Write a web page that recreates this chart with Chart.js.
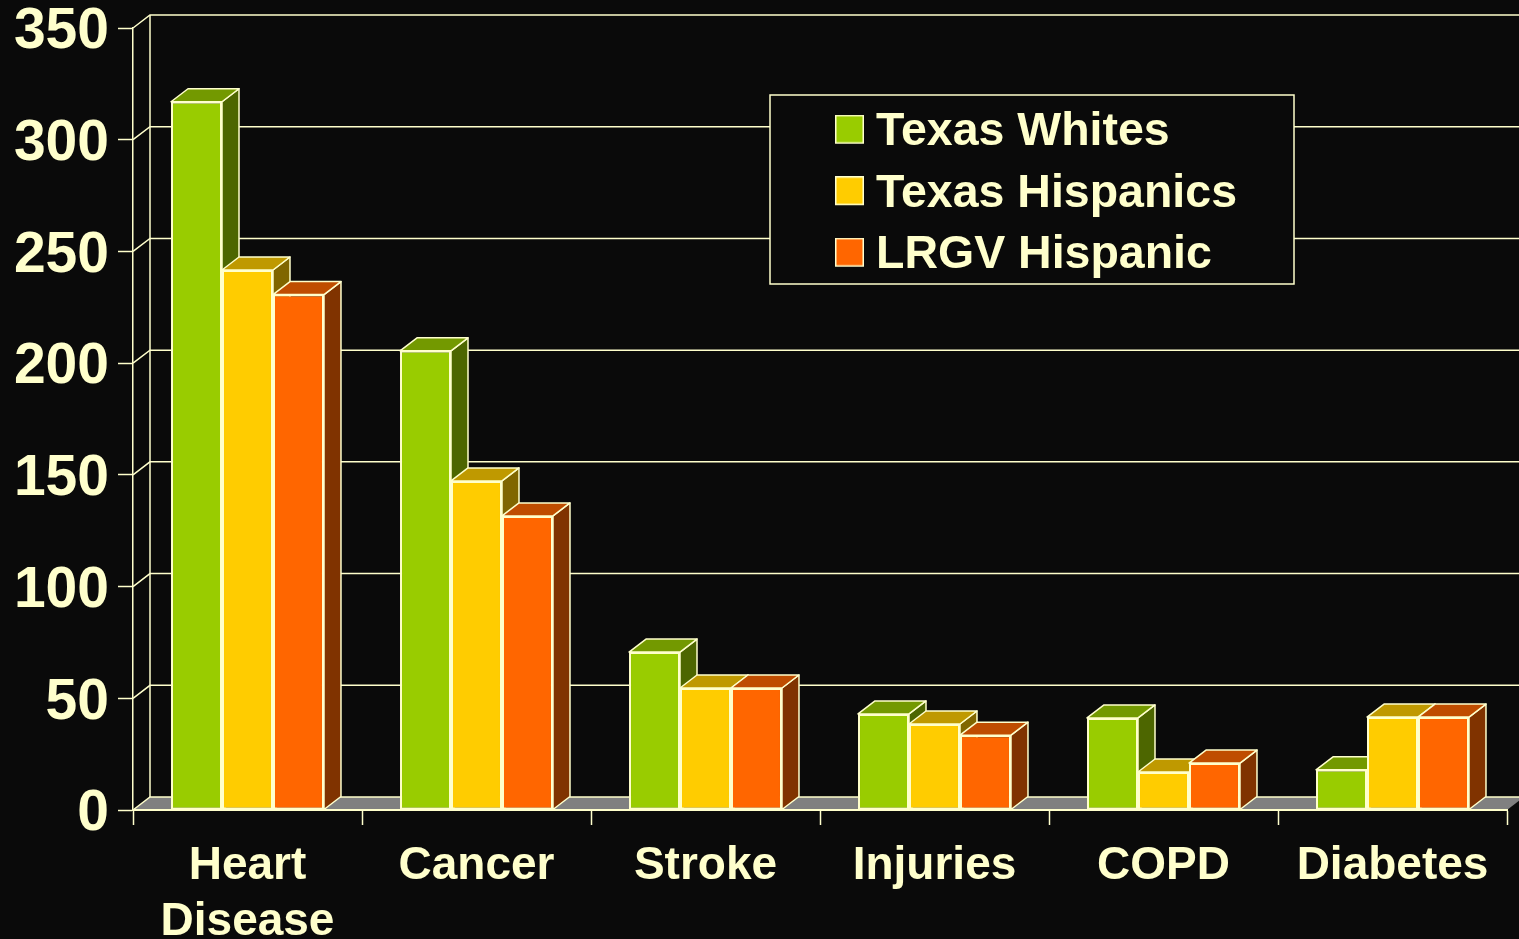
<!DOCTYPE html>
<html>
<head>
<meta charset="utf-8">
<style>
html,body{margin:0;padding:0;background:#0a0a0a;overflow:hidden}
canvas{display:block}
</style>
<script src="https://cdn.jsdelivr.net/npm/chart.js@4"></script>
</head>
<body>
<canvas id="c" width="1519" height="939"></canvas>
<script>
const categories = [['Heart','Disease'],'Cancer','Stroke','Injuries','COPD','Diabetes'];
const texasWhites = [317, 205.5, 70.7, 43, 41.2, 18];
const texasHispanics = [241.7, 147.3, 54.6, 38.5, 17, 41.6];
const lrgvHispanic = [230.7, 131.6, 54.6, 33.5, 21, 41.6];
const yTicks = [0, 50, 100, 150, 200, 250, 300, 350];
const names = ['Texas Whites','Texas Hispanics','LRGV Hispanic'];
const seriesValues = [texasWhites, texasHispanics, lrgvHispanic];

const INK = '#FFFFCC', BG = '#0A0A0A', FLOOR = '#808080';
const DX = 17, DY = 13;
const faces = [
  {front:'#99CC00', top:'#739900', side:'#4D6600'},
  {front:'#FFCC00', top:'#BF9900', side:'#806600'},
  {front:'#FF6600', top:'#BF4D00', side:'#803300'}
];
const legendBox = {x:770, y:95, w:524, h:189};
const legendPos = {left:831.25, top:94};

function poly(ctx, pts, fill, stroke, lw){
  ctx.beginPath();
  pts.forEach((p,i)=> i ? ctx.lineTo(p[0],p[1]) : ctx.moveTo(p[0],p[1]));
  ctx.closePath();
  if (fill){ ctx.fillStyle = fill; ctx.fill(); }
  if (stroke){ ctx.strokeStyle = stroke; ctx.lineWidth = lw; ctx.lineJoin='round'; ctx.stroke(); }
}

// legend swatch: square sits 3px above the centre of its canvas so it lines up with the text
function swatch(color){
  const c = document.createElement('canvas');
  c.width = 29; c.height = 35;
  const g = c.getContext('2d');
  g.fillStyle = color; g.fillRect(1,1,27,27);
  g.strokeStyle = INK; g.lineWidth = 1.5; g.strokeRect(0.75,0.75,27.5,27.5);
  return c;
}

const scene3d = {
  id:'scene3d',
  afterLayout(chart){
    const l = chart.legend;
    if (l){ l.left = legendPos.left; l.top = legendPos.top; l.right = legendBox.x+legendBox.w; l.bottom = chart.height; }
  },
  beforeDraw(chart){
    const {ctx, chartArea:a, scales:{y}} = chart;
    ctx.save();
    ctx.fillStyle = BG; ctx.fillRect(0,0,chart.width,chart.height);
    poly(ctx, [[a.left,a.bottom],[a.left+DX,a.bottom-DY],[a.right+DX,a.bottom-DY],[a.right,a.bottom]], FLOOR);
    ctx.strokeStyle = INK; ctx.lineWidth = 1.5;
    y.ticks.forEach(t=>{
      const py = y.getPixelForValue(t.value);
      ctx.beginPath();
      ctx.moveTo(a.left,py); ctx.lineTo(a.left+DX,py-DY); ctx.lineTo(a.right+DX,py-DY);
      ctx.stroke();
    });
    ctx.beginPath();
    ctx.moveTo(a.left+DX,a.top-DY); ctx.lineTo(a.left+DX,a.bottom-DY);
    ctx.stroke();
    ctx.fillStyle = BG;
    ctx.fillRect(legendBox.x,legendBox.y,legendBox.w,legendBox.h);
    ctx.strokeRect(legendBox.x,legendBox.y,legendBox.w,legendBox.h);
    ctx.restore();
  },
  beforeDatasetsDraw(chart){
    const {ctx} = chart;
    ctx.save();
    chart.data.datasets.forEach((ds,di)=>{
      chart.getDatasetMeta(di).data.forEach(bar=>{
        const p = bar.getProps(['x','y','base','width'],true);
        const l = p.x-p.width/2, r = p.x+p.width/2;
        poly(ctx, [[r,p.y],[r+DX,p.y-DY],[r+DX,p.base-DY],[r,p.base]], faces[di].side, INK, 1.5);
        poly(ctx, [[l,p.y],[l+DX,p.y-DY],[r+DX,p.y-DY],[r,p.y]], faces[di].top, INK, 1.5);
      });
    });
    ctx.restore();
  }
};

new Chart(document.getElementById('c'), {
  type:'bar',
  data:{
    labels:categories,
    datasets:seriesValues.map((v,i)=>({
      label:names[i], data:v,
      backgroundColor:faces[i].front, borderColor:INK, borderWidth:2, borderSkipped:false,
      barPercentage:1, categoryPercentage:0.668
    }))
  },
  options:{
    responsive:false, animation:false,
    layout:{padding:{top:28,right:12,left:0,bottom:0}},
    plugins:{
      tooltip:{enabled:false},
      legend:{
        display:true, position:'chartArea', align:'start',
        labels:{
          color:INK, font:{family:'"Liberation Sans"',size:46.5,weight:'bold'},
          usePointStyle:true, boxWidth:6.5, boxHeight:27, padding:15,
          generateLabels(chart){
            return Chart.defaults.plugins.legend.labels.generateLabels(chart).map((it,i)=>{
              it.pointStyle = swatch(faces[i].front);
              return it;
            });
          }
        }
      }
    },
    scales:{
      x:{
        afterFit(s){ s.height = 129; },
        grid:{drawOnChartArea:false, drawTicks:true, tickLength:15, tickColor:INK, tickWidth:1.5, offset:true},
        border:{display:true, color:INK, width:2},
        ticks:{color:INK, padding:13, maxRotation:0, autoSkip:false,
          font:{family:'"Liberation Sans"',size:46,weight:'bold',lineHeight:1.217}}
      },
      y:{
        min:0, max:350,
        afterFit(s){ s.width = 133; s.paddingTop = 0; s.paddingBottom = 0; },
        afterBuildTicks(s){ s.ticks = yTicks.map(v=>({value:v})); },
        grid:{drawOnChartArea:false, drawTicks:true, tickLength:15, tickColor:INK, tickWidth:1.5},
        border:{display:true, color:INK, width:1.5},
        ticks:{color:INK, padding:9,
          // an empty first line with a small line height nudges the number below its tick
          callback(v){ return ['', String(v)]; },
          font:{family:'"Liberation Sans"',size:57,weight:'bold',lineHeight:'9px'}}
      }
    }
  },
  plugins:[scene3d]
});
</script>
</body>
</html>
